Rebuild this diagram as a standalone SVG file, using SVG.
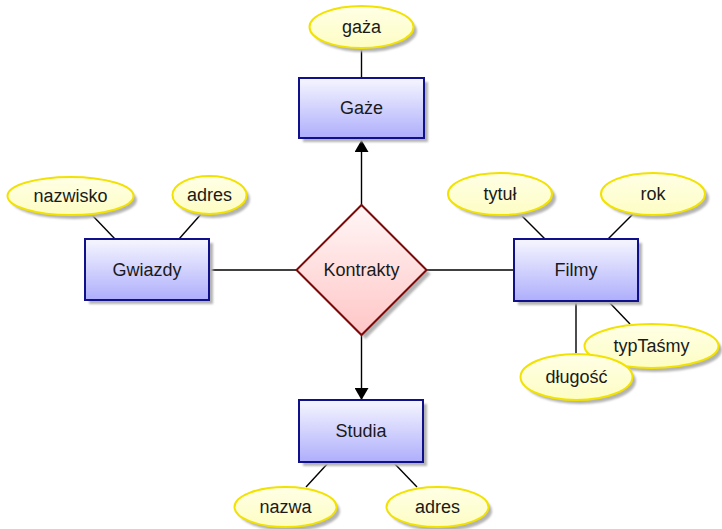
<svg xmlns="http://www.w3.org/2000/svg" width="722" height="529" viewBox="0 0 722 529">
<style>
text{font-family:"Liberation Sans",Arial,sans-serif;font-size:18px;fill:#1a1a1a;text-anchor:middle;dominant-baseline:central}
.ent{fill:url(#gEnt);stroke:#10108a;stroke-width:2}
.att{fill:url(#gAtt);stroke:#f2e200;stroke-width:2}
.rel{fill:url(#gRel);stroke:#7a0a0a;stroke-width:2}
.sh{fill:#b4b4b4}
.ln{stroke:#000;stroke-width:1.4;fill:none}
</style>
<defs>
<linearGradient id="gEnt" x1="0" y1="0" x2="0" y2="1"><stop offset="0" stop-color="#f6f6ff"/><stop offset="1" stop-color="#aeaefc"/></linearGradient>
<linearGradient id="gAtt" x1="0" y1="0" x2="0" y2="1"><stop offset="0" stop-color="#ffffe6"/><stop offset="1" stop-color="#fdfdc4"/></linearGradient>
<linearGradient id="gRel" x1="0" y1="0" x2="0" y2="1"><stop offset="0" stop-color="#fff6f6"/><stop offset="1" stop-color="#ffc6c6"/></linearGradient>
<filter id="blur" x="-10%" y="-10%" width="120%" height="120%"><feGaussianBlur stdDeviation="1"/></filter>
<marker id="arr" viewBox="0 0 12 14" refX="12" refY="7" markerWidth="12" markerHeight="14" markerUnits="userSpaceOnUse" orient="auto"><path d="M0,0 L12,7 L0,14 Z" fill="#000"/></marker>
</defs>
<g id="connectors">
<line class="ln" x1="361.5" y1="49" x2="361.5" y2="78"/>
<line class="ln" x1="361.5" y1="205" x2="361.5" y2="140" marker-end="url(#arr)"/>
<line class="ln" x1="361.5" y1="335" x2="361.5" y2="400" marker-end="url(#arr)"/>
<line class="ln" x1="209" y1="270" x2="296" y2="270"/>
<line class="ln" x1="427" y1="270" x2="514" y2="270"/>
<line class="ln" x1="92" y1="215" x2="115" y2="239"/>
<line class="ln" x1="202" y1="213" x2="179" y2="239"/>
<line class="ln" x1="522" y1="216" x2="545" y2="239"/>
<line class="ln" x1="633" y1="214" x2="608" y2="239"/>
<line class="ln" x1="576" y1="301" x2="576" y2="355"/>
<line class="ln" x1="608" y1="301" x2="630" y2="324"/>
<line class="ln" x1="329" y1="462" x2="306" y2="487"/>
<line class="ln" x1="393" y1="462" x2="417" y2="487"/>
</g>
<g id="gaza">
<ellipse class="sh" cx="365" cy="31" rx="52" ry="21" filter="url(#blur)"/>
<ellipse class="att" cx="361.5" cy="27" rx="52" ry="21"/>
<text x="361.5" y="27">gaża</text>
</g>
<g id="Gaze">
<rect class="sh" x="303" y="82" width="125" height="60" filter="url(#blur)"/>
<rect class="ent" x="299" y="78" width="125" height="60"/>
<text x="361.5" y="108">Gaże</text>
</g>
<g id="Kontrakty">
<polygon class="sh" points="365.5,209 430.5,274 365.5,339 300.5,274" filter="url(#blur)"/>
<polygon class="rel" points="361.5,205 426.5,270 361.5,335 296.5,270"/>
<text x="361.5" y="270">Kontrakty</text>
</g>
<g id="Gwiazdy">
<rect class="sh" x="89" y="243" width="124" height="61" filter="url(#blur)"/>
<rect class="ent" x="85" y="239" width="124" height="61"/>
<text x="147" y="270">Gwiazdy</text>
</g>
<g id="nazwisko">
<ellipse class="sh" cx="74" cy="200" rx="63" ry="19" filter="url(#blur)"/>
<ellipse class="att" cx="70.5" cy="196" rx="63" ry="19"/>
<text x="70.5" y="196">nazwisko</text>
</g>
<g id="adres1">
<ellipse class="sh" cx="213" cy="199" rx="37" ry="19" filter="url(#blur)"/>
<ellipse class="att" cx="209.5" cy="195" rx="37" ry="19"/>
<text x="209.5" y="195">adres</text>
</g>
<g id="Filmy">
<rect class="sh" x="518" y="243" width="124" height="62" filter="url(#blur)"/>
<rect class="ent" x="514" y="239" width="124" height="62"/>
<text x="576" y="270">Filmy</text>
</g>
<g id="tytul">
<ellipse class="sh" cx="504" cy="198" rx="52" ry="21" filter="url(#blur)"/>
<ellipse class="att" cx="500" cy="194" rx="52" ry="21"/>
<text x="500" y="194">tytuł</text>
</g>
<g id="rok">
<ellipse class="sh" cx="657" cy="198" rx="52" ry="21" filter="url(#blur)"/>
<ellipse class="att" cx="653" cy="194" rx="52" ry="21"/>
<text x="653" y="194">rok</text>
</g>
<g id="typTasmy">
<ellipse class="sh" cx="655" cy="350" rx="67" ry="22" filter="url(#blur)"/>
<ellipse class="att" cx="651.5" cy="346" rx="67" ry="22"/>
<text x="651.5" y="346">typTaśmy</text>
</g>
<g id="dlugosc">
<ellipse class="sh" cx="580" cy="381" rx="56" ry="23" filter="url(#blur)"/>
<ellipse class="att" cx="576.5" cy="377" rx="56" ry="23"/>
<text x="576.5" y="377">długość</text>
</g>
<g id="Studia">
<rect class="sh" x="303" y="404" width="124" height="62" filter="url(#blur)"/>
<rect class="ent" x="299" y="400" width="124" height="62"/>
<text x="361" y="431">Studia</text>
</g>
<g id="nazwa">
<ellipse class="sh" cx="289" cy="511" rx="51" ry="20" filter="url(#blur)"/>
<ellipse class="att" cx="285.5" cy="507" rx="51" ry="20"/>
<text x="285.5" y="507">nazwa</text>
</g>
<g id="adres2">
<ellipse class="sh" cx="441" cy="511" rx="51" ry="20" filter="url(#blur)"/>
<ellipse class="att" cx="437.5" cy="507" rx="51" ry="20"/>
<text x="437.5" y="507">adres</text>
</g>
</svg>
